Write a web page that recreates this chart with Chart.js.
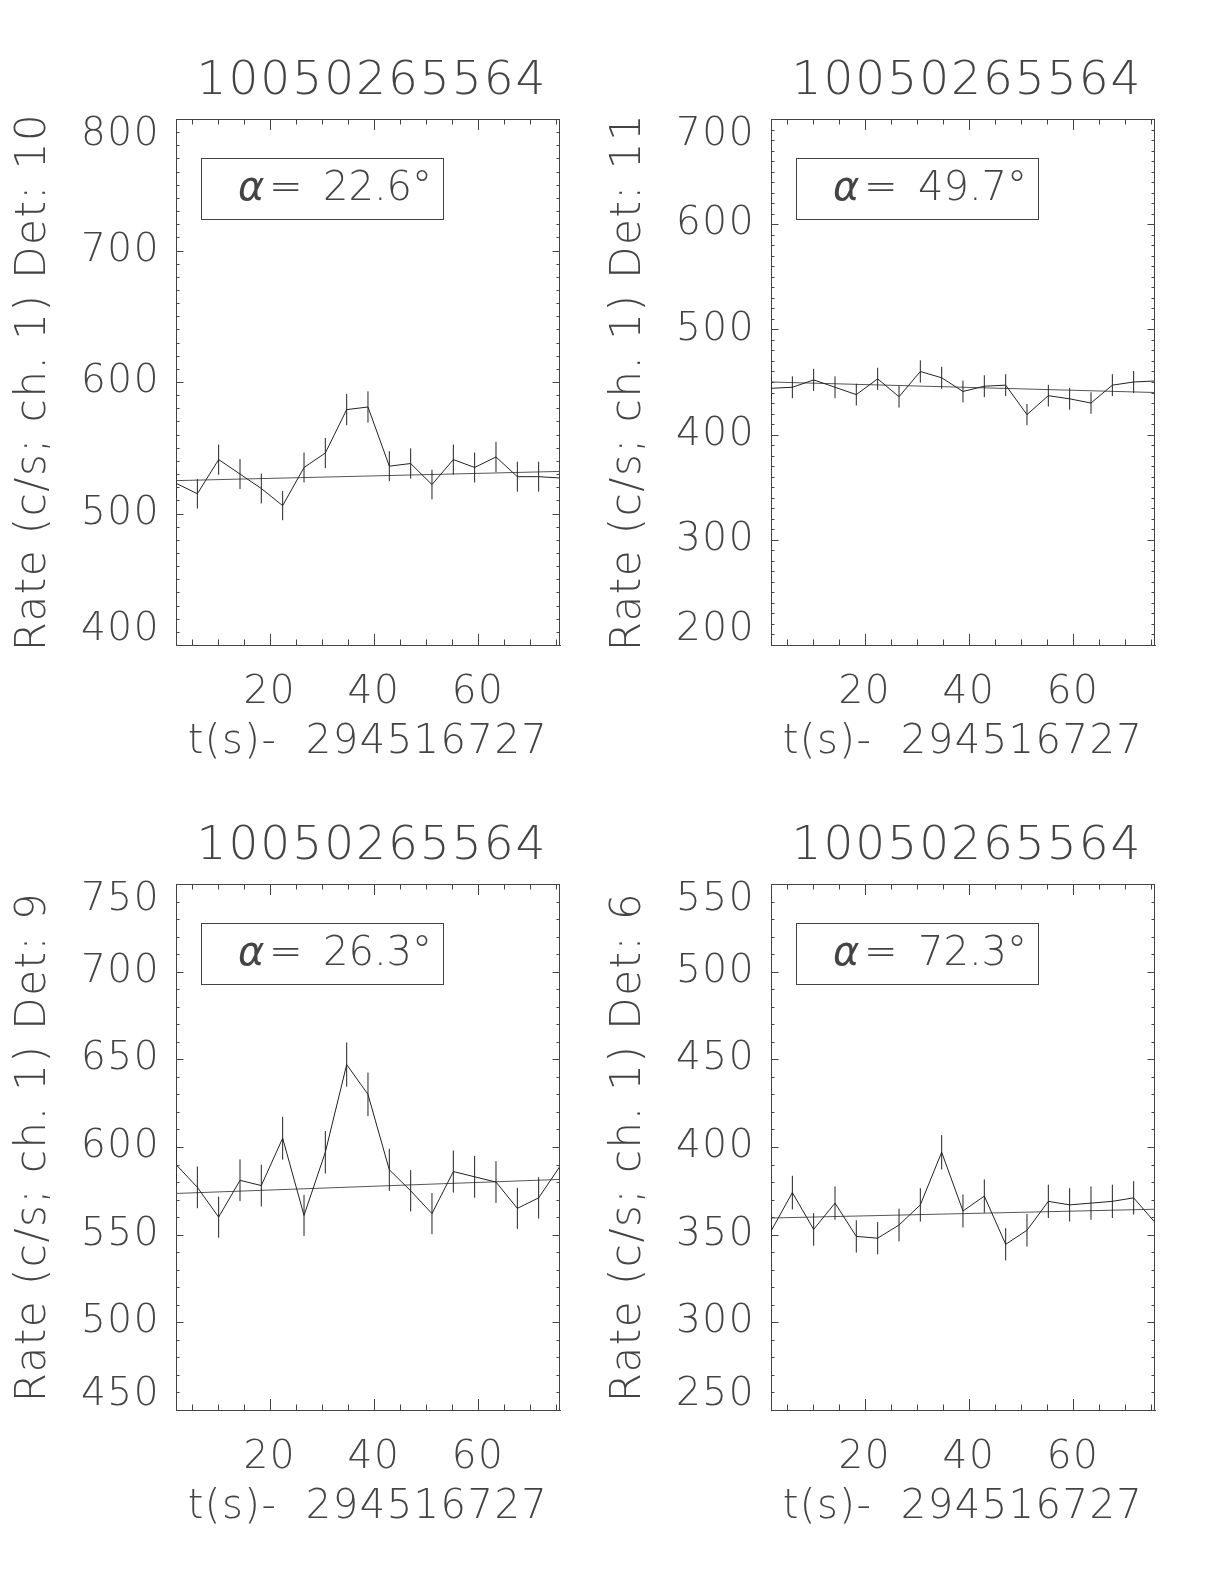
<!DOCTYPE html>
<html>
<head>
<meta charset="utf-8">
<script src="https://cdn.jsdelivr.net/npm/chart.js@4.4.0/dist/chart.umd.min.js"></script>
<style>
  body { margin: 0; background: #fff; }
  #wrap { position: relative; width: 1224px; height: 1584px; }
  canvas { position: absolute; }
</style>
</head>
<body>
<div id="wrap">
  <canvas id="det10" width="612" height="780" style="left:0;top:0"></canvas>
  <canvas id="det11" width="612" height="780" style="left:595px;top:0"></canvas>
  <canvas id="det9" width="612" height="780" style="left:0;top:765px"></canvas>
  <canvas id="det6" width="612" height="780" style="left:595px;top:765px"></canvas>
</div>
<script>
"use strict"

// Lichtkurven von vier Detektoren, gleiche Zeitachse
const triggerName = "10050265564";
const timeLabel = "t(s)-  294516727";
const times = [2.0, 6.1, 10.19, 14.29, 18.38, 22.48, 26.58, 30.67, 34.77, 38.86,
               42.96, 47.06, 51.15, 55.25, 59.34, 63.44, 67.54, 71.63, 75.73];
const xTickLabels = [20, 40, 60];

const det10Rates = [523, 515, 541, 530, 519, 506, 535, 546, 579, 581, 536, 538, 522, 541, 535, 543, 528, 528, 527];
const det10Errors = [11.3, 11.2, 11.5, 11.4, 11.3, 11.1, 11.4, 11.5, 11.9, 11.9, 11.4, 11.5, 11.3, 11.5, 11.4, 11.5, 11.4, 11.4, 11.3];
const det10Fit = [525, 532];
const det10Ticks = [400, 500, 600, 700, 800];

const det11Rates = [444, 445, 452, 445, 438, 453, 436, 460, 454, 441, 446, 447, 419, 437, 434, 430, 447, 450, 451];
const det11Errors = [10.4, 10.4, 10.5, 10.4, 10.3, 10.5, 10.3, 10.6, 10.5, 10.4, 10.4, 10.4, 10.1, 10.3, 10.3, 10.2, 10.4, 10.5, 10.5];
const det11Fit = [450, 440];
const det11Ticks = [200, 300, 400, 500, 600, 700];

const det9Rates = [590, 577, 560, 581, 578, 605, 561, 597, 647, 630, 587, 575, 562, 586, 583, 580, 565, 571, 589];
const det9Errors = [12.0, 11.9, 11.7, 11.9, 11.9, 12.2, 11.7, 12.1, 12.6, 12.4, 12.0, 11.8, 11.7, 12.0, 11.9, 11.9, 11.7, 11.8, 12.0];
const det9Fit = [573.5, 581.5];
const det9Ticks = [450, 500, 550, 600, 650, 700, 750];

const det6Rates = [352, 374, 353, 368, 349, 348, 355.5, 367, 397, 363.5, 372, 344.5, 352.5, 369, 367, 368, 369, 371, 357];
const det6Errors = [9.3, 9.6, 9.3, 9.5, 9.2, 9.2, 9.3, 9.5, 9.8, 9.4, 9.5, 9.2, 9.3, 9.5, 9.5, 9.5, 9.5, 9.5, 9.3];
const det6Fit = [359.5, 364.5];
const det6Ticks = [250, 300, 350, 400, 450, 500, 550];

const ink = '#444';
const fam = "'DejaVu Sans', sans-serif";

Chart.defaults.font.family = fam;
Chart.defaults.font.weight = 200;
Chart.defaults.color = ink;

// Rahmen oben/rechts, Ticks nach innen, Titel und Winkel-Box
const decor = {
  id: 'decor',
  beforeDraw(chart) {
    chart.ctx.letterSpacing = '1.5px';
  },
  afterDraw(chart, args, opts) {
    const {ctx, chartArea: a, scales: {x, y}} = chart;
    ctx.save();
    ctx.strokeStyle = ink;
    ctx.lineWidth = 1;
    ctx.beginPath();
    ctx.moveTo(a.left, Math.round(a.top) + 0.5);
    ctx.lineTo(a.right, Math.round(a.top) + 0.5);
    ctx.moveTo(Math.round(a.right) - 0.5, a.top);
    ctx.lineTo(Math.round(a.right) - 0.5, a.bottom);
    for (let v = Math.ceil(x.min / 5) * 5; v <= x.max; v += 5) {
      const px = Math.round(x.getPixelForValue(v)) + 0.5;
      const len = v % 20 === 0 ? 11 : 5.5;
      ctx.moveTo(px, a.bottom); ctx.lineTo(px, a.bottom - len);
      ctx.moveTo(px, a.top); ctx.lineTo(px, a.top + len);
    }
    for (let v = Math.ceil(y.min / 10) * 10; v <= y.max; v += 10) {
      const py = Math.round(y.getPixelForValue(v)) + 0.5;
      const len = v % opts.major === 0 ? 7.5 : 3.5;
      ctx.moveTo(a.left, py); ctx.lineTo(a.left + len, py);
      ctx.moveTo(a.right, py); ctx.lineTo(a.right - len, py);
    }
    ctx.stroke();

    // Titel
    ctx.fillStyle = ink;
    ctx.letterSpacing = '2px';
    ctx.font = '200 47px ' + fam;
    ctx.textAlign = 'center';
    ctx.textBaseline = 'alphabetic';
    ctx.fillText(triggerName, (a.left + a.right) / 2 + 4, a.top - 25);

    // Box mit alpha
    const bx = a.left + 25, by = a.top + 39;
    ctx.strokeRect(Math.round(bx) + 0.5, Math.round(by) + 0.5, 242, 61);
    ctx.letterSpacing = '0px';
    ctx.textAlign = 'left';
    ctx.font = 'italic 200 40px ' + fam;
    ctx.fillText('α', bx + 37, by + 42);
    ctx.font = '200 40px ' + fam;
    ctx.fillText('=', bx + 68, by + 42);
    ctx.fillText(opts.alpha + '°', bx + 122, by + 42);
    ctx.restore();
    ctx.letterSpacing = '0px';
  }
};

function errorBars(rates, errors) {
  let pts = [];
  for (let i = 0; i < times.length; i++) {
    pts.push({x: times[i], y: rates[i] - errors[i]});
    pts.push({x: times[i], y: rates[i] + errors[i]});
    pts.push({x: times[i], y: null});
  }
  return pts;
}

function buildPanel(id, det, rates, errors, fit, ticks, alpha) {
  const last = times.length - 1;
  const major = ticks[1] - ticks[0];
  const lo = ticks[0], hi = ticks[ticks.length - 1];
  new Chart(document.getElementById(id), {
    type: 'line',
    data: {
      datasets: [
        {
          data: times.map((t, i) => ({x: t, y: rates[i]})),
          borderColor: '#222', borderWidth: 1, pointRadius: 0, tension: 0
        },
        {
          data: errorBars(rates, errors),
          borderColor: '#222', borderWidth: 1, pointRadius: 0, spanGaps: false
        },
        {
          data: [{x: times[0], y: fit[0]}, {x: times[last], y: fit[1]}],
          borderColor: '#555', borderWidth: 1, pointRadius: 0
        }
      ]
    },
    options: {
      responsive: false,
      animation: false,
      layout: {padding: {top: 119, right: 52, bottom: 0, left: 0}},
      plugins: {
        legend: {display: false},
        tooltip: {enabled: false},
        decor: {major: major, alpha: alpha}
      },
      scales: {
        x: {
          type: 'linear',
          min: times[0],
          max: times[last],
          afterFit: (s) => { s.height = 135; },
          ticks: {
            stepSize: 5, maxTicksLimit: 1000, autoSkip: false, maxRotation: 0,
            padding: 24, font: {size: 39},
            callback: (v) => xTickLabels.includes(v) ? String(v) : ''
          },
          grid: {drawOnChartArea: false, drawTicks: false},
          border: {color: ink, width: 1},
          title: {display: true, text: timeLabel, font: {size: 40}, padding: {top: 0, bottom: 13}}
        },
        y: {
          min: lo,
          max: hi,
          afterFit: (s) => { s.width = 176; },
          ticks: {
            stepSize: 10, maxTicksLimit: 1000, autoSkip: false,
            padding: 16,
            // Randbeschriftungen nach innen ruecken wie im Original
            font: (c) => ({size: 39, lineHeight: (c.tick && (c.tick.value === lo || c.tick.value === hi)) ? '31px' : 1.2}),
            callback: (v) => {
              if (!ticks.includes(v)) return '';
              if (v === hi) return ['', String(v)];
              if (v === lo) return [String(v), ''];
              return String(v);
            }
          },
          grid: {drawOnChartArea: false, drawTicks: false},
          border: {color: ink, width: 1},
          title: {display: true, text: 'Rate (c/s; ch. 1) Det: ' + det, font: {size: 42}, padding: {top: 9, bottom: 0}}
        }
      }
    },
    plugins: [decor]
  });
}

buildPanel('det10', 10, det10Rates, det10Errors, det10Fit, det10Ticks, '22.6');
buildPanel('det11', 11, det11Rates, det11Errors, det11Fit, det11Ticks, '49.7');
buildPanel('det9', 9, det9Rates, det9Errors, det9Fit, det9Ticks, '26.3');
buildPanel('det6', 6, det6Rates, det6Errors, det6Fit, det6Ticks, '72.3');
</script>
</body>
</html>
